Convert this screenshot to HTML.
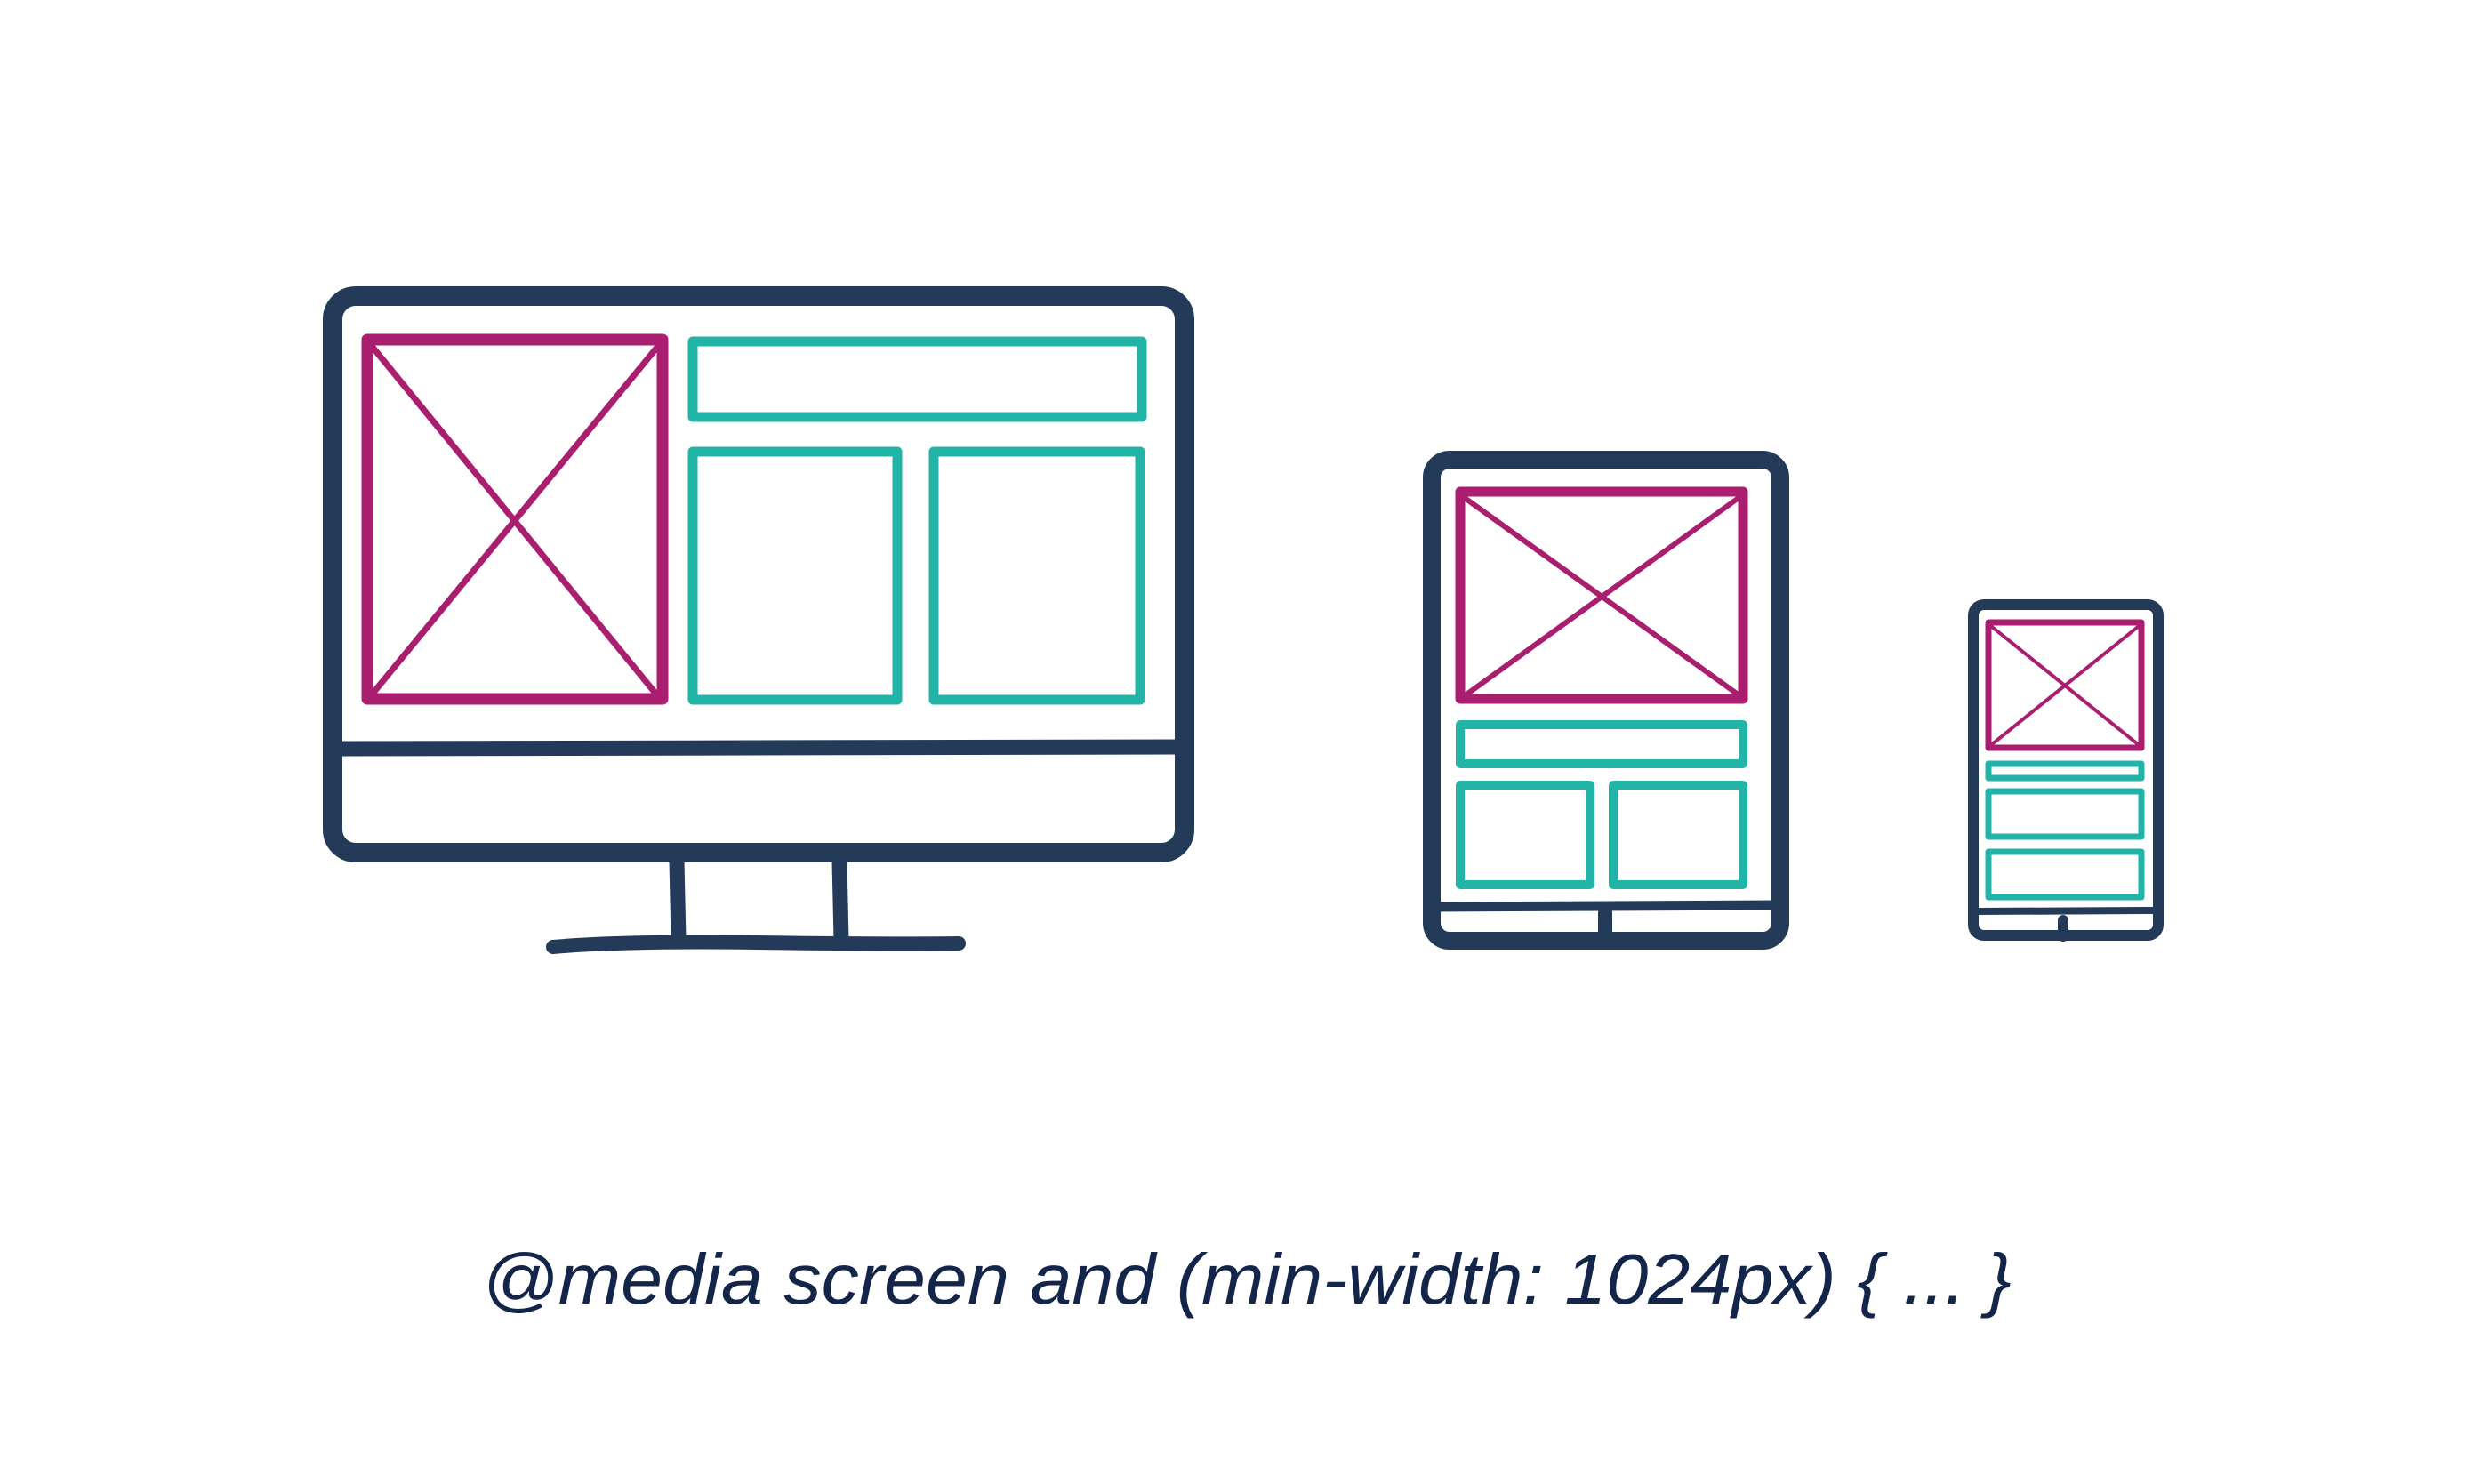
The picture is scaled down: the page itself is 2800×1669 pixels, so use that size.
<!DOCTYPE html>
<html><head><meta charset="utf-8"><style>
html,body{margin:0;padding:0;background:#fff;width:2800px;height:1669px;overflow:hidden}
svg{display:block}
</style></head><body>
<svg width="2800" height="1669" viewBox="0 0 2800 1669" xmlns="http://www.w3.org/2000/svg">
<g fill="none" stroke-linejoin="round" stroke-linecap="round">
<!-- Monitor -->
<rect x="374" y="333" width="958" height="626" rx="26" stroke="#233a58" stroke-width="22"/>
<path d="M382 842 L1328 840" stroke="#233a58" stroke-width="17"/>
<path d="M761 969 L763 1057 M944 969 L946 1057" stroke="#233a58" stroke-width="17"/>
<path d="M622 1065 Q700 1058 850 1060 T1078 1061" stroke="#233a58" stroke-width="16"/>
<rect x="413" y="382" width="332" height="404" stroke="#a91e6e" stroke-width="13"/>
<path d="M417 388 L739 782 M741 388 L419 780" stroke="#a91e6e" stroke-width="7"/>
<rect x="779" y="384" width="505" height="85" stroke="#22b5a7" stroke-width="11"/>
<rect x="779" y="508" width="230" height="279" stroke="#22b5a7" stroke-width="11"/>
<rect x="1050" y="508" width="232" height="279" stroke="#22b5a7" stroke-width="11"/>
<!-- Tablet -->
<rect x="1610" y="517" width="392" height="541" rx="20" stroke="#233a58" stroke-width="20"/>
<path d="M1614 1020 L1999 1018" stroke="#233a58" stroke-width="11"/>
<path d="M1805 1026 L1805 1056" stroke="#233a58" stroke-width="16"/>
<rect x="1642" y="553" width="318" height="233" stroke="#a91e6e" stroke-width="11"/>
<path d="M1647 560 L1953 780 M1955 560 L1649 781" stroke="#a91e6e" stroke-width="6"/>
<rect x="1642" y="815" width="318" height="44" stroke="#22b5a7" stroke-width="10"/>
<rect x="1642" y="883" width="146" height="112" stroke="#22b5a7" stroke-width="10"/>
<rect x="1814" y="883" width="146" height="112" stroke="#22b5a7" stroke-width="10"/>
<!-- Phone -->
<rect x="2219" y="680" width="208" height="372" rx="12" stroke="#233a58" stroke-width="12"/>
<path d="M2224 1025 L2425 1024" stroke="#233a58" stroke-width="8"/>
<path d="M2320 1035 L2320 1053" stroke="#233a58" stroke-width="12"/>
<rect x="2236" y="700" width="172" height="141" stroke="#a91e6e" stroke-width="7"/>
<path d="M2240 705 L2404 837 M2404 705 L2240 837" stroke="#a91e6e" stroke-width="4"/>
<rect x="2236" y="859" width="172" height="16" stroke="#22b5a7" stroke-width="7"/>
<rect x="2236" y="890" width="172" height="51" stroke="#22b5a7" stroke-width="7"/>
<rect x="2236" y="958" width="172" height="51" stroke="#22b5a7" stroke-width="7"/>
</g>
<text x="542" y="1466" font-family="Liberation Sans, sans-serif" font-style="italic" font-size="80" fill="#14254a" textLength="1720" lengthAdjust="spacingAndGlyphs">@media screen and (min-width: 1024px) { ... }</text>
</svg>
</body></html>
